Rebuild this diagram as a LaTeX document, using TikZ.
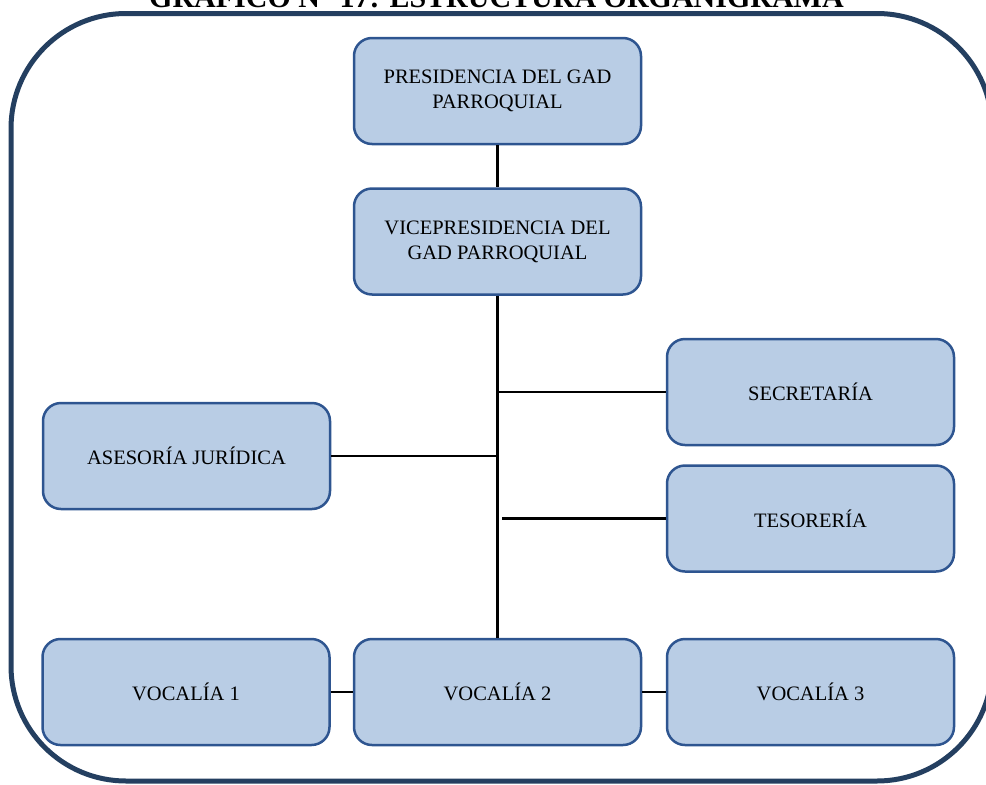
\documentclass[tikz,border=0pt]{standalone}
\usepackage{fontspec}
\setmainfont{Liberation Serif}
\definecolor{framecol}{HTML}{243F60}
\definecolor{boxfill}{HTML}{B9CDE5}
\definecolor{boxline}{HTML}{2E5590}
\begin{document}
\begin{tikzpicture}[x=1pt,y=-1pt,
  orgbox/.style={draw=boxline, fill=boxfill, line width=2.5pt, rounded corners=18pt,
    minimum width=287pt, minimum height=106pt, align=center, inner sep=0pt,
    font=\fontsize{20.5}{25}\selectfont},
  link/.style={draw=black, line width=2.5pt}]
\useasboundingbox (0,0) rectangle (986,785);
\draw[framecol, line width=5pt, rounded corners=115pt] (11,13.5) rectangle (992,781);
\node[anchor=base, font=\bfseries\fontsize{30}{30}\selectfont] (title) at (496.5,7) {GRÁFICO N° 17: ESTRUCTURA ORGANIGRAMA};
\node[orgbox] (pres) at (497.5,91) {PRESIDENCIA DEL GAD\\PARROQUIAL};
\node[orgbox] (vice) at (497.5,241.5) {VICEPRESIDENCIA DEL\\GAD PARROQUIAL};
\node[orgbox] (sec) at (810.5,392) {SECRETARÍA};
\node[orgbox] (tes) at (810.5,518.5) {TESORERÍA};
\node[orgbox] (ase) at (186.5,456) {ASESORÍA JURÍDICA};
\node[orgbox] (v1) at (186,692) {VOCALÍA 1};
\node[orgbox] (v2) at (497.5,692) {VOCALÍA 2};
\node[orgbox] (v3) at (810.5,692) {VOCALÍA 3};
\draw[link] (pres) -- (vice);
\draw[link] (vice) -- (v2);
\draw[link] (sec.west) -- (vice.south |- sec.west);
\draw[link] (tes.west) -- ([xshift=4pt]vice.south |- tes.west);
\draw[link] (ase.east) -- (vice.south |- ase.east);
\draw[link] (v1) -- (v2);
\draw[link] (v2) -- (v3);
\end{tikzpicture}
\end{document}
